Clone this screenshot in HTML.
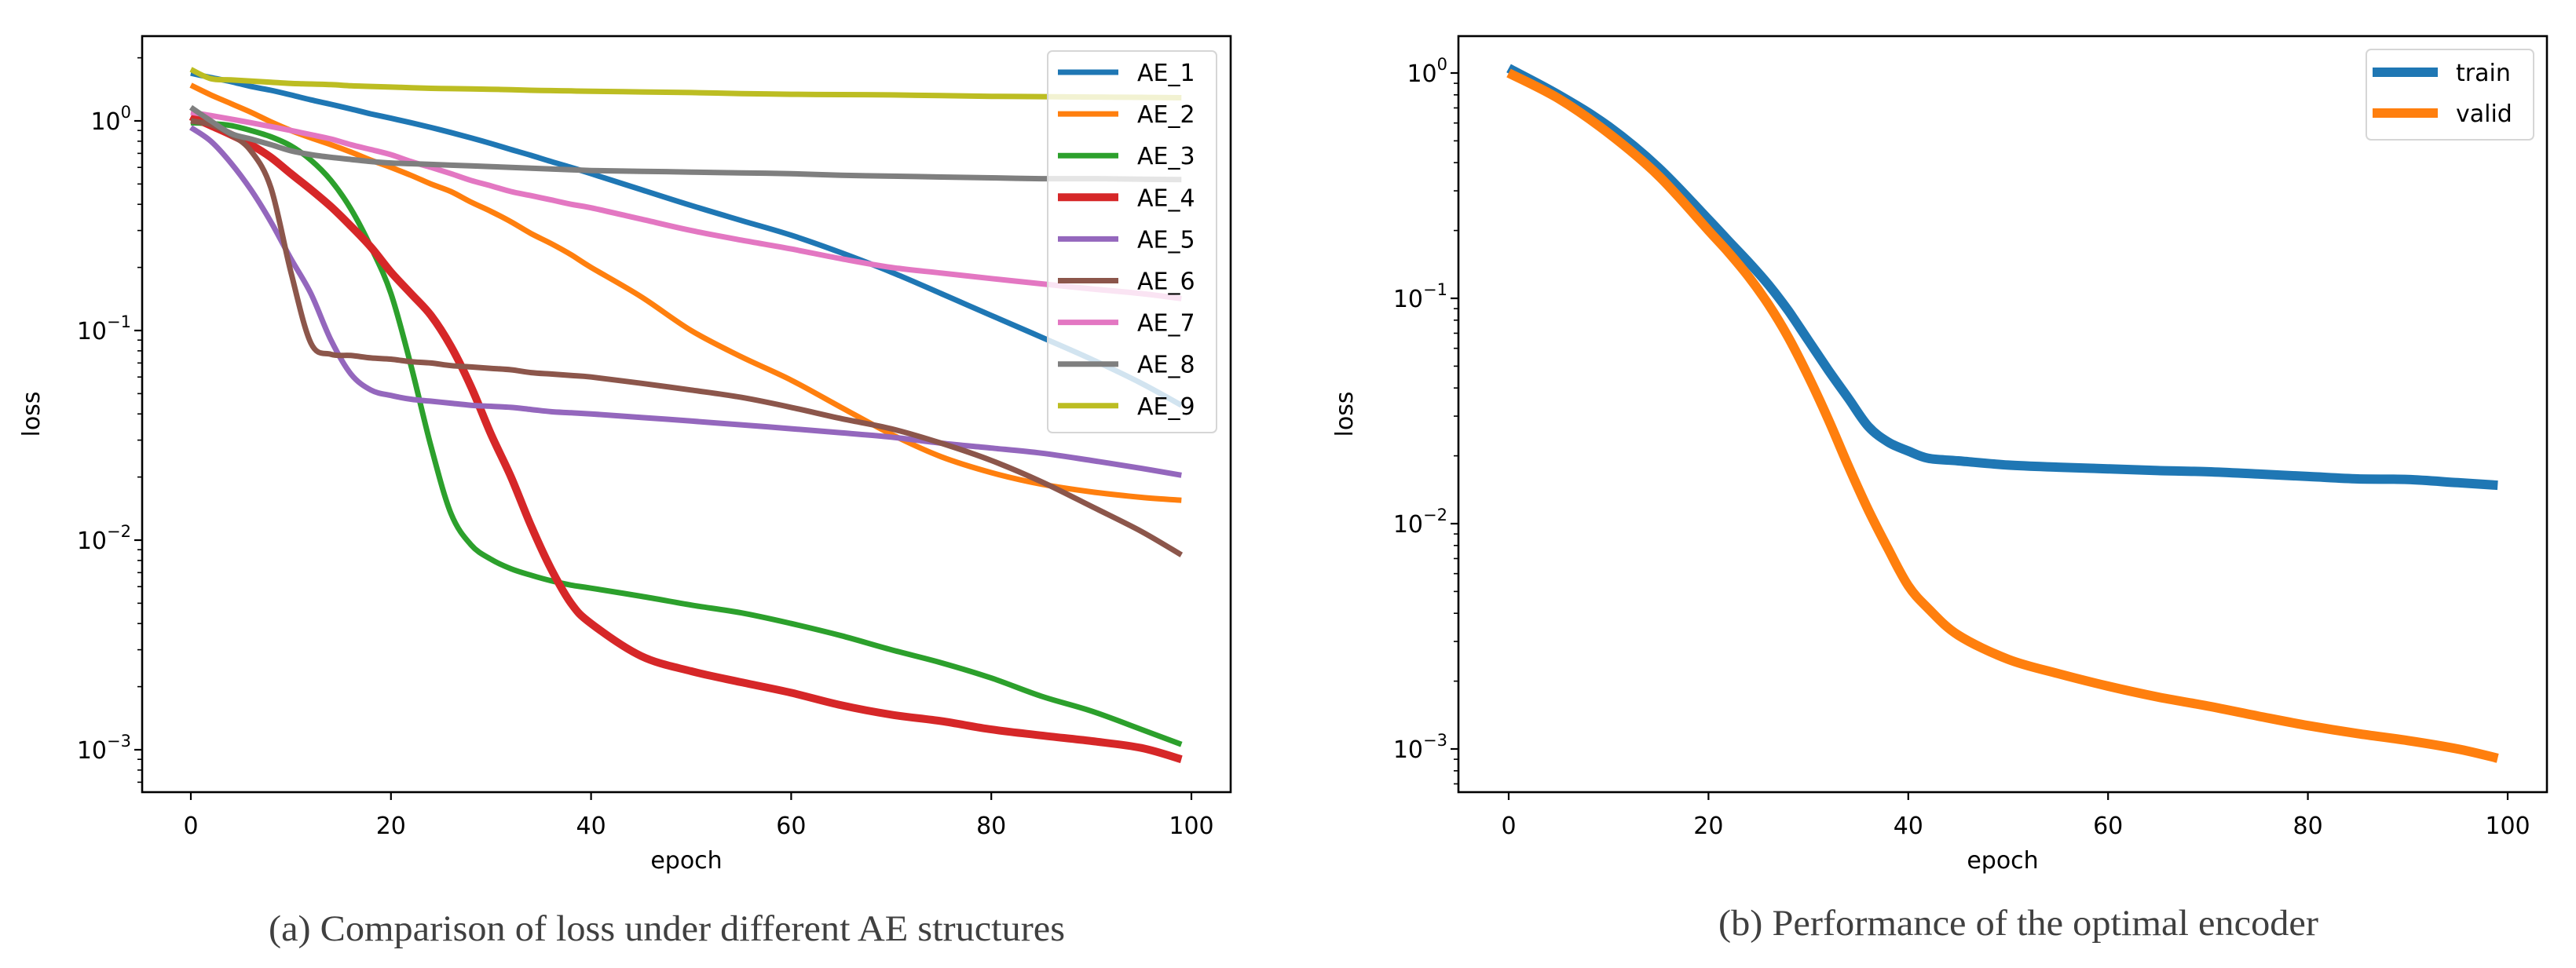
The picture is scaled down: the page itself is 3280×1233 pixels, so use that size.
<!DOCTYPE html>
<html><head><meta charset="utf-8"><style>
html,body{margin:0;padding:0;background:#fff;}
svg{display:block;}
text{font-family:"DejaVu Sans","Liberation Sans",sans-serif;}
.cap{font-family:"Liberation Serif",serif;fill:#404040;}
</style></head><body>
<svg id="fig" width="3280" height="1233" viewBox="0 0 3280 1233" xmlns="http://www.w3.org/2000/svg">
<text class="cap" x="342" y="1198" font-size="47" textLength="1014" lengthAdjust="spacingAndGlyphs">(a) Comparison of loss under different AE structures</text>
<text class="cap" x="2188" y="1191" font-size="47" textLength="764" lengthAdjust="spacingAndGlyphs">(b) Performance of the optimal encoder</text>
</svg>
<script>
// ---------- Left chart data ----------
const epochsA = [0,2,4,6,8,10,12,14,16,18,20,22,24,26,28,30,32,34,36,38,40,45,50,55,60,65,70,75,80,85,90,95,99];
const seriesNames = ["AE_1","AE_2","AE_3","AE_4","AE_5","AE_6","AE_7","AE_8","AE_9"];
const ae1 = [1.69,1.61,1.54,1.46,1.40,1.33,1.26,1.20,1.14,1.08,1.03,0.98,0.93,0.88,0.83,0.78,0.73,0.685,0.64,0.60,0.56,0.47,0.395,0.335,0.285,0.235,0.19,0.15,0.118,0.093,0.073,0.056,0.044];
const ae2 = [1.48,1.33,1.21,1.10,0.99,0.90,0.83,0.77,0.71,0.65,0.60,0.55,0.50,0.46,0.41,0.37,0.33,0.29,0.26,0.23,0.20,0.145,0.10,0.075,0.058,0.043,0.032,0.025,0.021,0.0185,0.017,0.016,0.0155];
const ae3 = [0.98,0.97,0.95,0.90,0.84,0.76,0.65,0.52,0.38,0.25,0.15,0.068,0.028,0.0134,0.0095,0.0081,0.0073,0.0068,0.0064,0.0061,0.0059,0.0054,0.0049,0.0045,0.0040,0.0035,0.0030,0.0026,0.0022,0.0018,0.00153,0.00125,0.00106];
const ae4 = [1.05,0.95,0.86,0.77,0.67,0.56,0.47,0.39,0.315,0.25,0.19,0.15,0.118,0.084,0.054,0.032,0.020,0.0117,0.0073,0.005,0.0040,0.0028,0.00237,0.0021,0.00187,0.00163,0.00147,0.00137,0.00125,0.00117,0.0011,0.00102,0.00090];
const ae5 = [0.93,0.80,0.63,0.47,0.33,0.22,0.15,0.09,0.062,0.052,0.049,0.047,0.046,0.045,0.044,0.0435,0.043,0.042,0.041,0.0405,0.040,0.0385,0.037,0.0355,0.034,0.0325,0.031,0.029,0.0275,0.026,0.024,0.022,0.0204];
const ae6 = [1.0,0.96,0.86,0.72,0.48,0.19,0.087,0.077,0.076,0.074,0.073,0.071,0.070,0.068,0.067,0.066,0.065,0.063,0.062,0.061,0.060,0.056,0.052,0.048,0.043,0.038,0.034,0.029,0.024,0.019,0.0145,0.011,0.0085];
const ae7 = [1.10,1.06,1.02,0.98,0.94,0.90,0.86,0.82,0.77,0.73,0.69,0.64,0.60,0.56,0.52,0.49,0.46,0.44,0.42,0.40,0.385,0.34,0.30,0.27,0.245,0.22,0.20,0.188,0.177,0.167,0.158,0.15,0.142];
const ae8 = [1.16,1.0,0.87,0.82,0.77,0.72,0.69,0.67,0.655,0.64,0.63,0.625,0.62,0.615,0.61,0.605,0.60,0.595,0.59,0.585,0.58,0.575,0.57,0.565,0.56,0.55,0.545,0.54,0.535,0.53,0.53,0.527,0.525];
const ae9 = [1.76,1.59,1.57,1.55,1.53,1.51,1.50,1.49,1.47,1.46,1.45,1.44,1.43,1.425,1.42,1.415,1.41,1.40,1.395,1.39,1.385,1.375,1.365,1.35,1.34,1.335,1.33,1.32,1.31,1.305,1.30,1.295,1.29];
const xTicks = [0,20,40,60,80,100];
const yTickExps = [0,-1,-2,-3];
// ---------- Right chart data ----------
const epochsB = [0,5,10,15,20,22,24,26,28,30,32,34,36,38,40,42,45,50,55,60,65,70,75,80,85,90,95,99];
const trainLoss = [1.05,0.80,0.58,0.38,0.224,0.18,0.145,0.115,0.088,0.065,0.048,0.036,0.027,0.023,0.021,0.0195,0.019,0.0182,0.0178,0.0175,0.0172,0.017,0.0166,0.0162,0.0158,0.0157,0.0152,0.0148];
const validLoss = [1.0,0.77,0.54,0.35,0.20,0.16,0.125,0.094,0.067,0.045,0.029,0.018,0.0115,0.0077,0.0053,0.0042,0.0032,0.0025,0.00216,0.0019,0.0017,0.00155,0.0014,0.00127,0.00117,0.00109,0.001,0.00091];

const NS = "http://www.w3.org/2000/svg";
const svg = document.getElementById("fig");
function mk(tag, attrs, parent){
  const e = document.createElementNS(NS, tag);
  for (const k in attrs) e.setAttribute(k, attrs[k]);
  (parent||svg).appendChild(e);
  return e;
}
function smoothPath(p){
  let d = "M" + p[0][0].toFixed(1) + "," + p[0][1].toFixed(1);
  for (let i = 0; i < p.length-1; i++){
    const p0 = p[Math.max(0,i-1)], p1 = p[i], p2 = p[i+1], p3 = p[Math.min(p.length-1,i+2)];
    const c1x = p1[0] + (p2[0]-p0[0])/6, c1y = p1[1] + (p2[1]-p0[1])/6;
    const c2x = p2[0] - (p3[0]-p1[0])/6, c2y = p2[1] - (p3[1]-p1[1])/6;
    d += " C" + c1x.toFixed(1)+","+c1y.toFixed(1)+" "+c2x.toFixed(1)+","+c2y.toFixed(1)+" "+p2[0].toFixed(1)+","+p2[1].toFixed(1);
  }
  return d;
}

function drawAxes(cfg){
  const g = mk("g", {});
  
  
  const X = v => cfg.x0 + v*cfg.xs;
  const Y = v => cfg.y0 - cfg.ys*Math.log10(v);
  const cp = mk("clipPath", {id: cfg.name+"-clip"}, g);
  mk("rect", {x: cfg.L, y: cfg.T, width: cfg.R-cfg.L, height: cfg.B-cfg.T}, cp);
  const sg = mk("g", {"clip-path": "url(#"+cfg.name+"-clip)"}, g);
  cfg.series.forEach(s => {
    const pts = s.vals.map((v,i) => [X(s.ep[i]), Y(v)]);
    const pl = mk("path", {d: smoothPath(pts), fill: "none", stroke: s.color, "stroke-width": s.w, "stroke-linejoin": "round"}, sg);
    
    
  });
  const fr = mk("rect", {x: cfg.L, y: cfg.T, width: cfg.R-cfg.L, height: cfg.B-cfg.T, fill: "none", stroke: "#000", "stroke-width": 2.6}, g);
  
  
  xTicks.forEach(t => {
    const x = X(t);
    mk("line", {x1: x, x2: x, y1: cfg.B, y2: cfg.B+10, stroke: "#000", "stroke-width": 2.2}, g);
    const tx = mk("text", {x: x, y: 1062, "font-size": 30, "text-anchor": "middle"}, g);
    tx.textContent = t;
    
    
  });
  yTickExps.forEach(e => {
    const y = cfg.y0 - cfg.ys*e;
    mk("line", {x1: cfg.L-10, x2: cfg.L, y1: y, y2: y, stroke: "#000", "stroke-width": 2.2}, g);
    const tx = mk("text", {x: cfg.L-28, y: y+11, "font-size": 30, "text-anchor": "end"}, g);
    tx.textContent = "10";
    
    
    const sup = mk("text", {x: cfg.L-27, y: y-4, "font-size": 21, "text-anchor": "start"}, g);
    sup.textContent = e === 0 ? "0" : "\u2212" + (-e);
    const bb = sup.getComputedTextLength();
    sup.setAttribute("x", cfg.L - 14 - bb);
    tx.setAttribute("x", cfg.L - 14 - bb);
  });
  for (let e = -4; e <= 1; e++) {
    for (let m = 2; m <= 9; m++) {
      const v = m*Math.pow(10,e);
      const y = Y(v);
      if (y > cfg.T && y < cfg.B) mk("line", {x1: cfg.L-6, x2: cfg.L, y1: y, y2: y, stroke: "#000", "stroke-width": 1.6}, g);
    }
  }
  const xl = mk("text", {x: (cfg.L+cfg.R)/2, y: 1106, "font-size": 30, "text-anchor": "middle"}, g);
  xl.textContent = "epoch";
  
  
  const yc = (cfg.T+cfg.B)/2;
  const yl = mk("text", {x: cfg.ylx, y: yc, "font-size": 30, "text-anchor": "middle", transform: "rotate(-90 "+cfg.ylx+" "+yc+")"}, g);
  yl.textContent = "loss";
  
  
  const lg = cfg.legend;
  const lgg = mk("g", {}, g);
  
  
  mk("rect", {x: lg.x, y: lg.y, width: lg.w, height: lg.h, rx: 6, fill: "#fff", "fill-opacity": 0.8, stroke: "#d6d6d6", "stroke-width": 2}, lgg);
  cfg.series.forEach((s,i) => {
    const y = lg.y0 + i*lg.dy;
    const eg = mk("g", {}, lgg);
    
    
    mk("line", {x1: lg.hx1, x2: lg.hx2, y1: y, y2: y, stroke: s.color, "stroke-width": s.w}, eg);
    const t = mk("text", {x: lg.tx, y: y+11, "font-size": 30}, eg);
    t.textContent = s.label;
  });
}

const cols = ["#1f77b4","#ff7f0e","#2ca02c","#d62728","#9467bd","#8c564b","#e377c2","#7f7f7f","#bcbd22"];
const aeVals = [ae1,ae2,ae3,ae4,ae5,ae6,ae7,ae8,ae9];
drawAxes({
  name: "chart-a", L: 181, R: 1567, T: 46, B: 1009,
  x0: 243, xs: 12.74, y0: 154, ys: 267, ylx: 50,
  series: seriesNames.map((n,i) => ({label: n, ep: epochsA, vals: aeVals[i], color: cols[i], w: i===3 ? 10 : 7})),
  legend: {x: 1334, y: 65, w: 215, h: 486, y0: 92, dy: 53.1, hx1: 1347, hx2: 1424, tx: 1448}
});
drawAxes({
  name: "chart-b", L: 1857, R: 3243, T: 46, B: 1009,
  x0: 1921, xs: 12.72, y0: 93, ys: 287, ylx: 1722,
  series: [
    {label: "train", ep: epochsB, vals: trainLoss, color: "#1f77b4", w: 12},
    {label: "valid", ep: epochsB, vals: validLoss, color: "#ff7f0e", w: 12}
  ],
  legend: {x: 3013, y: 63, w: 213, h: 115, y0: 92, dy: 52, hx1: 3021, hx2: 3104, tx: 3127}
});
</script>
</body></html>
